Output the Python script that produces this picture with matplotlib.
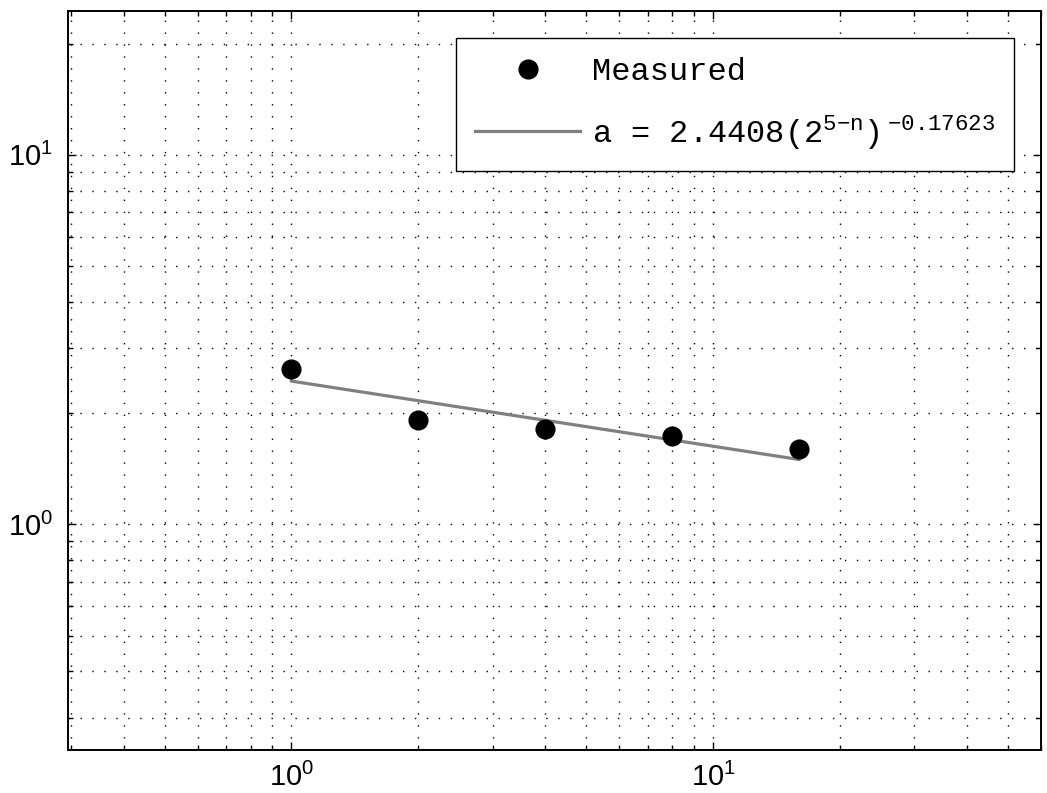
"""
Log-log plot of measured a vs. 2^(5-n) with the power-law fit.
"""
import matplotlib.pyplot as plt
import numpy as np
from matplotlib.ticker import LogLocator, NullFormatter

plt.rcParams['font.family'] = ['Liberation Sans', 'DejaVu Sans']
plt.rcParams['mathtext.fontset'] = 'custom'
plt.rcParams['mathtext.rm'] = 'Liberation Sans'
plt.rcParams['xtick.labelsize'] = 21
plt.rcParams['ytick.labelsize'] = 21

# ============ data ============
x_meas = [1, 2, 4, 8, 16]                       # 2^(5-n)
a_meas = [2.637, 1.915, 1.807, 1.734, 1.603]

# fit: a = C * (2^(5-n))^p
FIT_C = 2.4408
FIT_P = -0.17623

XLIM = (0.295, 60)
YLIM = (0.245, 24.5)

fit_label = r'a = 2.4408(2$^{\mathregular{5{-}n}}$)$^{\mathregular{\,{-}0.17623}}$'

# ============ plot ============
fig = plt.figure(figsize=(10.47, 7.93), dpi=100)
ax = fig.add_axes([68 / 1047, 43 / 793, 973 / 1047, 739 / 793])

x_fit = np.array([x_meas[0], x_meas[-1]], dtype=float)
a_fit = FIT_C * x_fit ** FIT_P

ax.loglog(x_meas, a_meas, 'o', color='black', markersize=13.5, label='Measured', zorder=4)
ax.loglog(x_fit, a_fit, '-', color='#808080', linewidth=2.3, label=fit_label, zorder=3)

ax.set_xlim(*XLIM)
ax.set_ylim(*YLIM)

for axis in (ax.xaxis, ax.yaxis):
    axis.set_major_locator(LogLocator(base=10))
    axis.set_minor_locator(LogLocator(base=10, subs=np.arange(2, 10)))
    axis.set_minor_formatter(NullFormatter())

ax.grid(True, which='both', color='black', linewidth=1.0, linestyle=(0, (1, 7.6)))
ax.tick_params(which='both', direction='in', top=True, right=True, width=1.0)
ax.tick_params(which='major', length=6)
ax.tick_params(which='minor', length=3.5)
ax.tick_params(axis='x', which='major', pad=9.5)
ax.tick_params(axis='y', which='major', pad=11)
for sp in ax.spines.values():
    sp.set_linewidth(1.4)

leg = ax.legend(loc='upper right', prop={'family': 'Liberation Mono', 'size': 23},
                numpoints=1, handlelength=3.3, handletextpad=0.35,
                borderaxespad=0.85, borderpad=0.6, labelspacing=0.8,
                fancybox=False, framealpha=1, edgecolor='black')
leg.get_frame().set_linewidth(1.0)

plt.savefig('out.png', dpi=100)
